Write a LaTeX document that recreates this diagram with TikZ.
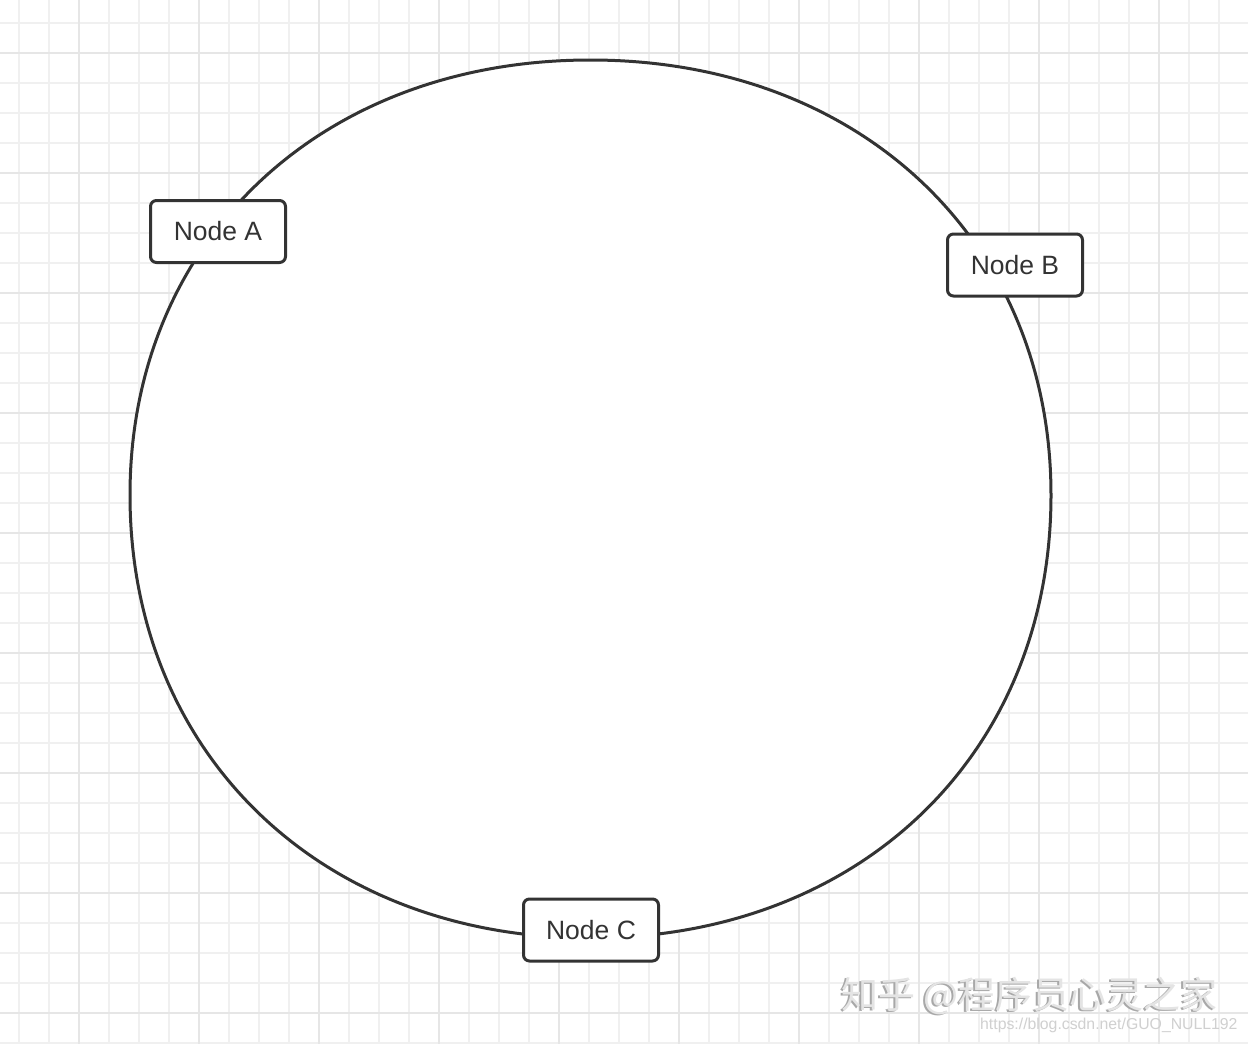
\documentclass[tikz,border=0pt]{standalone}
\usepackage{fontspec}
\setmainfont{Liberation Sans}
\newfontfamily\cjkfont{Noto Sans CJK SC}
\definecolor{ink}{HTML}{333333}
\definecolor{gridminor}{HTML}{F0F0F0}
\definecolor{gridmajor}{HTML}{E6E6E6}
\definecolor{wmshadow}{HTML}{A8A8A8}
\definecolor{wmface}{HTML}{E4E4E4}
\definecolor{urlgray}{HTML}{D0D0D0}
\begin{document}
\begin{tikzpicture}[x=1pt,y=-1pt,
  nodebox/.style={draw=ink, line width=3pt, rounded corners=6pt, fill=white,
    minimum width=135pt, minimum height=62pt, inner sep=0pt, text=ink,
    font=\fontsize{26.5}{30}\selectfont},
  ring/.style={draw=ink, line width=3pt, fill=white},
  minorline/.style={draw=gridminor, line width=1.5pt},
  majorline/.style={draw=gridmajor, line width=2pt},
  wmtext/.style={inner sep=0pt, anchor=base west, font=\cjkfont\fontsize{37}{40}\selectfont},
  urltext/.style={inner sep=0pt, anchor=base west, text=urlgray, font=\fontsize{15.8}{18}\selectfont}]
\fill[white] (0,0) rectangle (1248,1044);
\useasboundingbox (0,0) rectangle (1248,1044);
% grid
\foreach \x in {19,49,...,1249} \draw[minorline] (\x,0) -- (\x,1044);
\foreach \y in {23,53,...,1044} \draw[minorline] (0,\y) -- (1248,\y);
\foreach \x in {79,199,...,1248} \draw[majorline] (\x,0) -- (\x,1044);
\foreach \y in {53,173,...,1044} \draw[majorline] (0,\y) -- (1248,\y);
% ring
\path[ring] (590.5,60) .. controls (859.9,60) and (1051,240.5) .. (1051,495)
  .. controls (1051,754.2) and (859.9,938) .. (590.5,938)
  .. controls (321.1,938) and (130,754.2) .. (130,495)
  .. controls (130,240.5) and (321.1,60) .. (590.5,60) -- cycle;
% nodes
\node[nodebox] (A) at (218,231.5) {Node A};
\node[nodebox] (B) at (1015,265) {Node B};
\node[nodebox] (C) at (591,930) {Node C};
% watermark
\node[wmtext, text=wmshadow] (wm1) at (839.5,1009.5) {知乎 @程序员心灵之家};
\node[wmtext, text=wmface] (wm2) at (841,1008) {知乎 @程序员心灵之家};
\node[urltext] (url) at (980,1029) {https://blog.csdn.net/GUO\_NULL192};
\end{tikzpicture}
\end{document}
